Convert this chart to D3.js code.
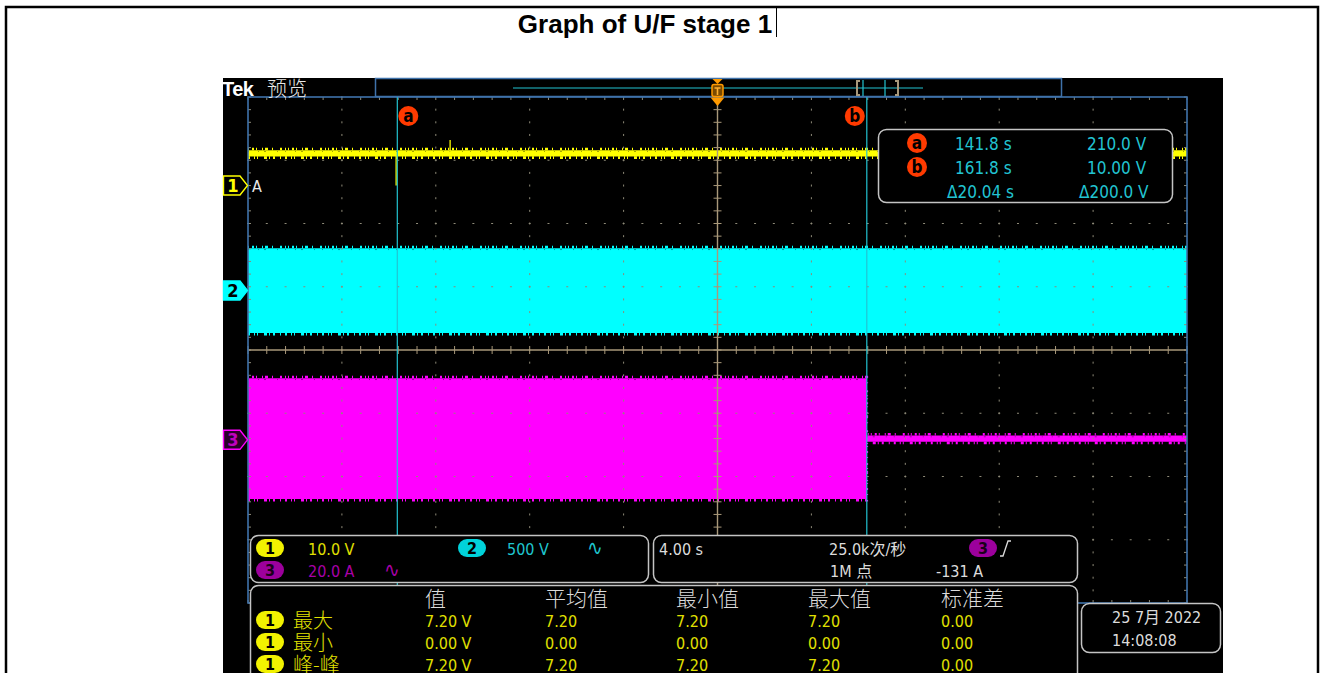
<!DOCTYPE html>
<html>
<head>
<meta charset="utf-8">
<script src="https://cdn.jsdelivr.net/npm/d3@7"></script>
<style>
  body { margin: 0; background: #fff; }
  svg { display: block; }
  .scope { font-family: "DejaVu Sans Condensed", "DejaVu Sans", "Noto Sans CJK SC", sans-serif; font-stretch: condensed; }
</style>
</head>
<body>
<svg id="chart" width="1322" height="673"></svg>
<script>
// ---- acquisition settings ----
const timeStart = 135.44;        // s at the left edge of the graticule
const secPerDiv = 4.0;           // horizontal scale
const divsX = 10;
const divsY = 8;

// ---- channel settings ----
const chNames = ["1", "2", "3"];
const chUnitsPerDiv = [10, 500, 20];       // V/div, V/div, A/div
const chOffsetDiv = [2.6, 0.94, -1.42];    // ground marker position (div)

// ---- trace envelopes (time in s, values in channel units) ----
const ch1Time = [135.44, 175.44];
const ch1Max = [5.6, 5.6];
const ch1Min = [4.6, 4.6];
const ch1SpikeTime = [141.75, 144.05];
const ch1SpikeLo = [0.0, 5.0];
const ch1SpikeHi = [5.0, 7.2];

const ch2Time = [135.44, 175.44];
const ch2Max = [335, 335];
const ch2Min = [-335, -335];

const ch3Time = [135.44, 161.8, 161.8, 175.44];
const ch3Max = [19.5, 19.5, 1.4, 1.4];
const ch3Min = [-18.7, -18.7, -0.6, -0.6];

// ---- cursors ----
const cursorNames = ["a", "b"];
const cursorTime = [141.8, 161.8];
const cursorTimeText = ["141.8 s", "161.8 s", "Δ20.04 s"];
const cursorValText = ["210.0 V", "10.00 V", "Δ200.0 V"];

// ---- channel / timebase / trigger readouts ----
const chScaleText = ["10.0 V", "500 V", "20.0 A"];
const horizText = ["4.00 s", "25.0k次/秒", "1M 点"];
const triggerText = "-131 A";

// ---- measurement table ----
const measHeaders = ["值", "平均值", "最小值", "最大值", "标准差"];
const measNames = ["最大", "最小", "峰-峰"];
const measValue = ["7.20 V", "0.00 V", "7.20 V"];
const measMean = ["7.20", "0.00", "7.20"];
const measMinimum = ["7.20", "0.00", "7.20"];
const measMaximum = ["7.20", "0.00", "7.20"];
const measStdDev = ["0.00", "0.00", "0.00"];

const dateText = ["25 7月 2022", "14:08:08"];

// ---- colours ----
const chColor = ["#ffff00", "#00ffff", "#ff00ff"];
const chTextColor = ["#e0e000", "#1fc6cf", "#a800a8"];
const cursorColor = "#22c4d2";
const gridColor = "#8e8a78";
const crossColor = "#a8987a";
const frameColor = "#3f72aa";
const boxStroke = "#c4c4c4";
const labelGray = "#dcdcdc";

const svg = d3.select("#chart");

// ---- page frame and title ----
svg.append("path")
  .attr("d", "M6,690V7H1318V690")
  .attr("fill", "none").attr("stroke", "#000").attr("stroke-width", 2.5);
svg.append("text")
  .attr("x", 645).attr("y", 33).attr("text-anchor", "middle")
  .attr("font-family", "'Liberation Sans', Arial, sans-serif")
  .attr("font-weight", "bold").attr("font-size", 26).attr("fill", "#000")
  .text("Graph of U/F stage 1");
svg.append("line")
  .attr("x1", 776.5).attr("x2", 776.5).attr("y1", 8).attr("y2", 37)
  .attr("stroke", "#000").attr("stroke-width", 1);

// ---- scope screen ----
const scr = svg.append("g").attr("class", "scope");
scr.append("rect").attr("x", 223).attr("y", 78).attr("width", 1000).attr("height", 600).attr("fill", "#000");

// geometry of the graticule
const gL = 248, gR = 1187, gT = 97, gB = 603;
const x = d3.scaleLinear().domain([timeStart, timeStart + divsX * secPerDiv]).range([gL, gR]);
const gx = d3.scaleLinear().domain([0, divsX]).range([gL, gR]);
const gy = d3.scaleLinear().domain([-divsY / 2, divsY / 2]).range([gB, gT]);
const yCh = (c, v) => gy(chOffsetDiv[c] + v / chUnitsPerDiv[c]);

// ---- traces ----
const traces = scr.append("g");
function envelope(c, times, mins, maxs) {
  const pts = times.map((t, i) => ({ t, lo: mins[i], hi: maxs[i] }));
  const area = d3.area().x(d => x(d.t)).y0(d => yCh(c, d.lo)).y1(d => yCh(c, d.hi));
  traces.append("path").datum(pts).attr("d", area).attr("fill", chColor[c]);
  // ragged noise fringe along the upper and lower edges
  const hiLine = d3.line().x(d => x(d.t)).y(d => yCh(c, d.hi) - 1.2);
  const loLine = d3.line().x(d => x(d.t)).y(d => yCh(c, d.lo) + 1.2);
  traces.append("path").datum(pts).attr("d", hiLine).attr("fill", "none")
    .attr("stroke", chColor[c]).attr("stroke-width", 2.6)
    .attr("stroke-dasharray", "1 3 2 2 1 5 1 2 3 4 1 7 2 3 1 2");
  traces.append("path").datum(pts).attr("d", loLine).attr("fill", "none")
    .attr("stroke", chColor[c]).attr("stroke-width", 2.6)
    .attr("stroke-dasharray", "2 4 1 2 1 6 3 2 1 3 2 5 1 4");
  traces.append("path").datum(pts).attr("d", hiLine).attr("fill", "none")
    .attr("stroke", "#000").attr("stroke-width", 1).attr("opacity", 0.35)
    .attr("transform", "translate(0,2.6)")
    .attr("stroke-dasharray", "1 9 1 5 2 11 1 7");
}
envelope(1, ch2Time, ch2Min, ch2Max);
envelope(2, ch3Time, ch3Min, ch3Max);
envelope(0, ch1Time, ch1Min, ch1Max);
traces.selectAll("line.spike").data(ch1SpikeTime).join("line")
  .attr("class", "spike")
  .attr("x1", d => x(d)).attr("x2", d => x(d))
  .attr("y1", (d, i) => yCh(0, ch1SpikeLo[i])).attr("y2", (d, i) => yCh(0, ch1SpikeHi[i]))
  .attr("stroke", chColor[0]).attr("stroke-width", 1.3);

// ---- graticule ----
const grid = scr.append("g");
const minorX = d3.range(0, divsX * 5 + 1).map(m => m / 5);
const minorY = d3.range(-divsY * 5 / 2, divsY * 5 / 2 + 1).map(m => m / 5);
// dotted division columns
d3.range(1, divsX).filter(i => i !== divsX / 2).forEach(i => {
  grid.selectAll(null).data(minorY).join("rect")
    .attr("x", gx(i) - 0.5).attr("y", d => gy(d) - 1).attr("width", 1).attr("height", 2)
    .attr("fill", gridColor);
});
// dotted division rows
d3.range(-divsY / 2 + 1, divsY / 2).filter(k => k !== 0).forEach(k => {
  grid.selectAll(null).data(minorX).join("rect")
    .attr("x", d => gx(d) - 1).attr("y", gy(k) - 0.5).attr("width", 2).attr("height", 1)
    .attr("fill", gridColor);
});
// edge ticks
grid.selectAll(null).data(minorX).join("line")
  .attr("x1", d => gx(d)).attr("x2", d => gx(d)).attr("y1", gT).attr("y2", gT + 3)
  .attr("stroke", gridColor);
grid.selectAll(null).data(minorX).join("line")
  .attr("x1", d => gx(d)).attr("x2", d => gx(d)).attr("y1", gB).attr("y2", gB - 3)
  .attr("stroke", gridColor);
grid.selectAll(null).data(minorY).join("line")
  .attr("x1", gL).attr("x2", gL + 3).attr("y1", d => gy(d)).attr("y2", d => gy(d))
  .attr("stroke", gridColor);
grid.selectAll(null).data(minorY).join("line")
  .attr("x1", gR).attr("x2", gR - 3).attr("y1", d => gy(d)).attr("y2", d => gy(d))
  .attr("stroke", gridColor);
// centre cross with minor ticks
grid.append("line").attr("x1", gL).attr("x2", gR).attr("y1", gy(0)).attr("y2", gy(0))
  .attr("stroke", crossColor).attr("stroke-width", 1.4);
grid.append("line").attr("x1", gx(divsX / 2)).attr("x2", gx(divsX / 2)).attr("y1", gT).attr("y2", gB)
  .attr("stroke", crossColor).attr("stroke-width", 1.4);
grid.selectAll(null).data(minorX).join("line")
  .attr("x1", d => gx(d)).attr("x2", d => gx(d)).attr("y1", gy(0) - 4).attr("y2", gy(0) + 4)
  .attr("stroke", crossColor);
grid.selectAll(null).data(minorY).join("line")
  .attr("x1", gx(divsX / 2) - 4).attr("x2", gx(divsX / 2) + 4).attr("y1", d => gy(d)).attr("y2", d => gy(d))
  .attr("stroke", crossColor);
// frame
grid.append("rect").attr("x", gL).attr("y", gT).attr("width", gR - gL).attr("height", gB - gT)
  .attr("fill", "none").attr("stroke", frameColor).attr("stroke-width", 1.6);

// ---- cursors ----
scr.selectAll("line.cursor").data(cursorTime).join("line")
  .attr("class", "cursor")
  .attr("x1", d => x(d)).attr("x2", d => x(d)).attr("y1", gT).attr("y2", gB)
  .attr("stroke", cursorColor).attr("stroke-width", 1.2);
function cursorBadge(g, cx, cy, name) {
  g.append("circle").attr("cx", cx).attr("cy", cy).attr("r", 10).attr("fill", "#ff3a00");
  g.append("text").attr("x", cx).attr("y", cy + 5.5).attr("text-anchor", "middle")
    .attr("font-family", "'DejaVu Sans', sans-serif").attr("font-weight", "bold")
    .attr("font-size", 17).attr("fill", "#000").text(name);
}
cursorTime.forEach((t, i) => cursorBadge(scr, x(t) + (i === 0 ? 11 : -12), 116, cursorNames[i]));

// ---- header: brand, record view, trigger position ----
scr.append("text").attr("x", 222).attr("y", 96)
  .attr("font-family", "'Liberation Sans', Arial, sans-serif").attr("font-weight", "bold")
  .attr("font-size", 20).attr("fill", "#fff").attr("letter-spacing", -0.5).text("Tek");
scr.append("text").attr("x", 267).attr("y", 96)
  .attr("font-family", "'Noto Sans CJK SC', sans-serif").attr("font-weight", 300)
  .attr("font-size", 20).attr("fill", "#e8e8e8").text("预览");
scr.append("rect").attr("x", 375.5).attr("y", 78.5).attr("width", 686).attr("height", 18)
  .attr("fill", "#000").attr("stroke", frameColor).attr("stroke-width", 1.5);
scr.append("line").attr("x1", 513).attr("x2", 923).attr("y1", 88).attr("y2", 88)
  .attr("stroke", cursorColor).attr("stroke-width", 1.2);
[863, 885].forEach(v => scr.append("line").attr("x1", v).attr("x2", v).attr("y1", 80).attr("y2", 96)
  .attr("stroke", cursorColor).attr("stroke-width", 1.2));
scr.append("path").attr("d", "M860,81H857V95H860M895,81H898V95H895")
  .attr("fill", "none").attr("stroke", "#a8987a").attr("stroke-width", 2);
const tx = gx(divsX / 2);
scr.append("path").attr("d", `M${tx - 5},79L${tx + 5},79L${tx},84Z`).attr("fill", "#ff9a00");
scr.append("rect").attr("x", tx - 5.5).attr("y", 84.5).attr("width", 11).attr("height", 12).attr("rx", 2)
  .attr("fill", "#7a4a00").attr("stroke", "#ff9a00").attr("stroke-width", 1.5);
scr.append("path").attr("d", `M${tx - 3},88H${tx + 3}M${tx},88V95`)
  .attr("stroke", "#ffb030").attr("stroke-width", 1.6);
scr.append("path").attr("d", `M${tx - 7},97.5L${tx + 7},97.5L${tx},106Z`).attr("fill", "#ff9a00");

// ---- channel ground markers ----
chNames.forEach((n, c) => {
  const cy = yCh(c, 0);
  const filled = c === 1;
  scr.append("path")
    .attr("d", `M223.5,${cy - 9.5}H240L247.5,${cy}L240,${cy + 9.5}H223.5Z`)
    .attr("fill", filled ? chColor[c] : (c === 2 ? "#2a002a" : "#000"))
    .attr("stroke", chColor[c]).attr("stroke-width", 1.4);
  scr.append("text").attr("x", 233).attr("y", cy + 6.5).attr("text-anchor", "middle")
    .attr("font-family", "'DejaVu Sans', sans-serif").attr("font-weight", "bold").attr("font-size", 18)
    .attr("fill", filled ? "#000" : (c === 2 ? "#c000c0" : chColor[c])).text(n);
});
scr.append("text").attr("x", 252).attr("y", yCh(0, 0) + 6)
  .attr("font-size", 16).attr("fill", "#e8e8e8").text("A");

// ---- helpers for readout boxes ----
function box(x0, y0, w, h) {
  scr.append("rect").attr("x", x0 + 0.5).attr("y", y0 + 0.5).attr("width", w).attr("height", h).attr("rx", 8)
    .attr("fill", "#000").attr("stroke", boxStroke).attr("stroke-width", 1.5);
}
function label(x0, y0, s, color, size, anchor) {
  return scr.append("text").attr("x", x0).attr("y", y0).attr("fill", color)
    .attr("font-size", size || 16).attr("text-anchor", anchor || "start").text(s);
}
function pill(cx, cy, n, c) {
  scr.append("rect").attr("x", cx - 14).attr("y", cy - 9).attr("width", 28).attr("height", 18).attr("rx", 9)
    .attr("fill", c === 0 ? "#f2f200" : c === 1 ? "#00d2da" : "#9c009c");
  scr.append("text").attr("x", cx).attr("y", cy + 6).attr("text-anchor", "middle")
    .attr("font-family", "'DejaVu Sans', sans-serif").attr("font-weight", "bold").attr("font-size", 16)
    .attr("fill", c === 2 ? "#1a001a" : "#000").text(n);
}

// ---- cursor readout ----
box(878, 129, 294, 73);
cursorNames.forEach((n, i) => cursorBadge(scr, 917, 143 + i * 24, n));
cursorTimeText.forEach((s, i) => label(i < 2 ? 955 : 947, 150 + i * 24, s, cursorColor, 17));
cursorValText.forEach((s, i) => label(i < 2 ? 1087 : 1079, 150 + i * 24, s, cursorColor, 17));

// ---- vertical settings box ----
box(250, 535, 398, 47);
pill(270, 548, chNames[0], 0);
label(308, 555, chScaleText[0], chTextColor[0], 16);
pill(472, 548, chNames[1], 1);
label(507, 555, chScaleText[1], chTextColor[1], 16);
label(587, 555, "∿", chTextColor[1], 21);
pill(270, 570, chNames[2], 2);
label(308, 577, chScaleText[2], chTextColor[2], 16);
label(384, 577, "∿", chTextColor[2], 21);

// ---- horizontal / trigger box ----
box(653, 535, 424, 47);
label(659, 555, horizText[0], labelGray, 16);
label(829, 555, horizText[1], labelGray, 16);
label(830, 577, horizText[2], labelGray, 16);
pill(983, 548, chNames[2], 2);
scr.append("path").attr("d", "M1000,556H1003L1008,541H1011").attr("fill", "none")
  .attr("stroke", labelGray).attr("stroke-width", 1.3);
label(936, 577, triggerText, labelGray, 16);

// ---- measurement table ----
box(250, 585, 827, 110);
const colX = [425, 545, 676, 808, 941];
measHeaders.forEach((h, i) => label(colX[i], 606, h, labelGray, 21)
  .attr("font-family", "'Noto Sans CJK SC', sans-serif").attr("font-weight", 300));
const cols = [measValue, measMean, measMinimum, measMaximum, measStdDev];
measNames.forEach((n, r) => {
  const cy = 620 + r * 22;
  pill(270, cy, chNames[0], 0);
  label(293, cy + 8, n, chTextColor[0], 20)
    .attr("font-family", "'Noto Sans CJK SC', sans-serif").attr("font-weight", 300);
  cols.forEach((col, i) => label(colX[i], cy + 7, col[r], chTextColor[0], 16));
});

// ---- date box ----
box(1081, 603, 139, 49);
label(1112, 623, dateText[0], labelGray, 16);
label(1112, 646, dateText[1], labelGray, 16);
</script>
</body>
</html>
